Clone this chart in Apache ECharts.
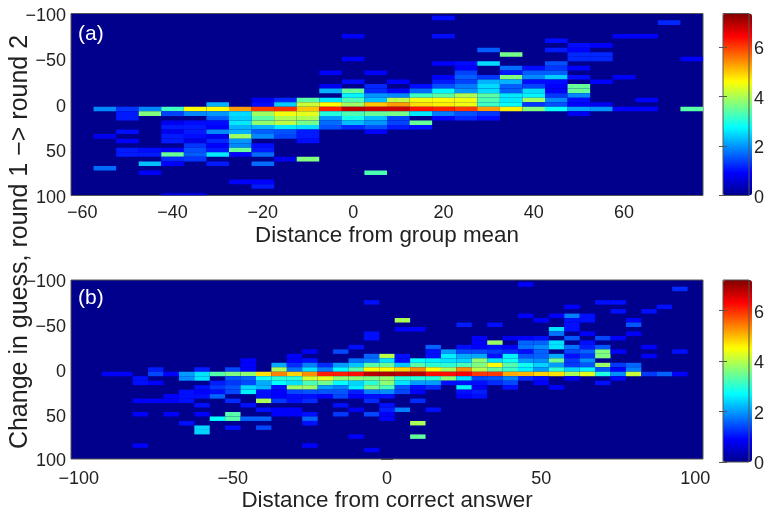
<!DOCTYPE html>
<html><head><meta charset="utf-8">
<style>html,body{margin:0;padding:0;background:#fff}#c{width:767px;height:513px;filter:blur(0.45px)}</style>
<script src="https://cdn.jsdelivr.net/npm/echarts@6/dist/echarts.min.js"></script>
</head><body><div id="c"></div>
<script>
const xTicksA=[-60,-40,-20,0,20,40,60];
const xTicksB=[-100,-50,0,50,100];
const yTicks=[-100,-50,0,50,100];
const barTicks=[0,2,4,6];
const jetColors=['#00008c','#0000ff','#007fff','#00ffff','#7fff7f','#ffff00','#ff7f00','#ff0000','#7f0000'];
const cellsA=[
[-55,5,1.9],[-55,35,.8],[-55,70,1.7],
[-50,5,1.3],[-50,10,1.1],[-50,15,1.1],[-50,30,1],[-50,40,.9],[-50,50,1.1],[-50,55,1.1],
[-45,5,1.9],[-45,10,3.7],[-45,50,1],[-45,55,1.1],[-45,65,2.3],[-45,75,.9],
[-40,5,3.2],[-40,10,1.4],[-40,20,.8],[-40,25,1.1],[-40,30,.8],[-40,35,1.1],[-40,40,1.1],[-40,50,.9],[-40,55,3.5],[-40,60,1.2],[-40,65,.9],[-40,100,.8],
[-35,5,4.6],[-35,10,1.9],[-35,20,1],[-35,25,1.1],[-35,30,1.1],[-35,35,1],[-35,40,.7],[-35,45,1.3],[-35,50,1.5],[-35,55,1.6],[-35,60,1.3],[-35,100,.8],
[-30,0,2.2],[-30,5,4.6],[-30,10,2],[-30,15,1.6],[-30,20,1],[-30,25,.9],[-30,30,1.9],[-30,35,.8],[-30,40,1.2],[-30,45,.9],[-30,50,1.1],[-30,55,2.6],[-30,65,1.1],
[-25,5,5.3],[-25,10,2.5],[-25,15,2.4],[-25,20,2.6],[-25,25,2.2],[-25,30,2.2],[-25,35,3.9],[-25,40,2],[-25,45,1.9],[-25,50,3.5],[-25,55,.9],[-25,85,.9],
[-20,-5,.8],[-20,0,1],[-20,5,6],[-20,10,3.9],[-20,15,3.4],[-20,20,3.8],[-20,25,2.2],[-20,30,1.6],[-20,35,1.9],[-20,45,1],[-20,50,1.1],[-20,55,1.7],[-20,65,1.7],[-20,85,.9],[-20,90,1.1],
[-15,-5,1.2],[-15,0,2.4],[-15,5,6.1],[-15,10,4.5],[-15,15,4],[-15,20,4.1],[-15,25,2.6],[-15,30,1.5],[-15,35,1.4],[-15,60,.8],
[-10,-5,3.4],[-10,0,4.2],[-10,5,5],[-10,10,4.4],[-10,15,4],[-10,20,3.6],[-10,25,2.5],[-10,30,1.1],[-10,35,1.1],[-10,40,1],[-10,60,3.7],
[-5,-35,.9],[-5,-20,.8],[-5,-15,2.2],[-5,-5,2.6],[-5,0,4.6],[-5,5,6.2],[-5,10,3],[-5,15,2],[-5,20,1.7],[-5,25,1.5],
[0,-75,.9],[0,-50,.9],[0,-25,1],[0,-15,3.5],[0,-10,2.7],[0,-5,3.3],[0,0,3.9],[0,5,6.9],[0,10,3.3],[0,15,2.9],[0,20,2.3],[0,25,1.2],
[5,-35,.9],[5,-20,1.2],[5,-15,1.2],[5,-10,2],[5,-5,2.3],[5,0,5],[5,5,6.8],[5,10,3.5],[5,15,2.3],[5,20,2],[5,25,1.5],[5,30,.9],[5,75,3.3],
[10,-25,.9],[10,-15,.9],[10,-10,1.9],[10,-5,4.1],[10,0,5.3],[10,5,6.8],[10,10,3.6],[10,15,1.4],[10,20,1.4],[10,25,1.1],
[15,-20,1],[15,-15,1.7],[15,-10,3.2],[15,-5,4.5],[15,0,4.8],[15,5,6.3],[15,10,2.6],[15,20,3.5],[15,25,1],
[20,-95,1],[20,-75,1],[20,-45,.9],[20,-30,.9],[20,-25,1.1],[20,-20,1.5],[20,-15,2.7],[20,-10,3.4],[20,-5,4.6],[20,0,4.7],[20,5,6.2],[20,10,1.8],[20,15,.9],
[25,-45,1],[25,-40,.9],[25,-35,1.4],[25,-30,1.6],[25,-25,1.4],[25,-20,1.8],[25,-15,2],[25,-10,4],[25,-5,4.5],[25,0,4.5],[25,5,6],[25,10,1.5],[25,15,1.2],
[30,-60,1.6],[30,-45,2.5],[30,-30,1.3],[30,-25,2.2],[30,-20,2.5],[30,-15,2.5],[30,-10,3.4],[30,-5,3.3],[30,0,3.2],[30,5,5.3],[30,10,1.3],[30,15,1],
[35,-55,3.6],[35,-40,1.7],[35,-35,1.1],[35,-30,3.7],[35,-25,2.2],[35,-20,1.6],[35,-15,1.6],[35,-10,2.6],[35,-5,2.6],[35,0,2.8],[35,5,4.7],
[40,-40,1],[40,-35,1.6],[40,-30,1.9],[40,-25,1],[40,-20,1.4],[40,-15,2.5],[40,-10,2.7],[40,-5,3.9],[40,0,1.3],[40,5,3.7],
[45,-70,1],[45,-60,1.1],[45,-45,1.5],[45,-40,1.3],[45,-35,1.6],[45,-30,2.4],[45,-25,1],[45,-20,.9],[45,-15,.9],[45,-10,1.3],[45,-5,1.9],[45,0,1.5],[45,5,2.8],
[50,-65,1],[50,-60,.9],[50,-55,1.2],[50,-50,1.2],[50,-40,.9],[50,-30,1],[50,-20,3.5],[50,-15,3.5],[50,-10,1.9],[50,-5,1],[50,0,.9],[50,5,2.1],[50,10,.8],
[55,-65,.9],[55,-55,1.2],[55,-50,1.2],[55,-25,.9],[55,0,.8],[55,5,2],
[60,-75,.9],[60,-30,.9],[60,5,.9],
[65,-75,.9],[65,-5,.9],[65,5,.9],
[70,-90,1.2],
[75,-50,.9],[75,5,3.4]
];
const cellsB=[
[-90,5,.9],[-85,5,.9],
[-80,10,1],[-80,15,1],[-80,35,.9],[-80,50,.9],[-80,85,.9],
[-75,0,1.1],[-75,5,1.4],[-75,15,.9],[-75,35,.9],
[-70,5,.9],[-70,30,.9],[-70,35,.9],[-70,50,.9],
[-65,5,2],[-65,10,1.9],[-65,25,1],[-65,30,1],[-65,35,1],[-65,60,1],
[-60,0,1.1],[-60,5,2.5],[-60,10,2.5],[-60,20,1],[-60,25,.9],[-60,30,1],[-60,40,1],[-60,50,.9],[-60,65,2.4],[-60,70,2.4],
[-55,5,3.3],[-55,15,1.1],[-55,20,1.3],[-55,25,1],[-55,30,1.6],[-55,55,2.7],
[-50,0,1.4],[-50,5,3.6],[-50,10,1.5],[-50,15,1.3],[-50,20,1.5],[-50,25,1.4],[-50,35,1.2],[-50,50,3.3],[-50,55,3.3],[-50,65,1],
[-45,-10,.9],[-45,-5,.9],[-45,0,.9],[-45,5,3.7],[-45,10,1.6],[-45,15,1.4],[-45,20,2.4],[-45,25,2.6],[-45,40,1],[-45,55,1.6],
[-40,5,4.7],[-40,10,2.8],[-40,15,2.1],[-40,20,2.2],[-40,25,1],[-40,30,1],[-40,35,3.9],[-40,45,1],[-40,55,1.6],[-40,65,1.4],
[-35,-5,2.1],[-35,0,3.9],[-35,5,5.4],[-35,10,3],[-35,15,2.7],[-35,20,1],[-35,25,.9],[-35,30,.9],[-35,35,1.3],[-35,45,.9],[-35,50,.9],
[-30,-15,.9],[-30,-10,.9],[-30,-5,1.2],[-30,0,1.7],[-30,5,4.8],[-30,10,3],[-30,15,2.5],[-30,20,3.8],[-30,25,1.4],[-30,30,1],[-30,35,1],[-30,45,.9],[-30,50,.9],
[-25,-20,.8],[-25,-10,1],[-25,-5,1.8],[-25,0,2.5],[-25,5,5.3],[-25,10,4.2],[-25,15,3.2],[-25,20,3.8],[-25,25,1.5],[-25,30,1],[-25,35,1.2],[-25,50,1],[-25,55,1.6],[-25,60,1],[-25,85,.9],
[-20,-5,1.2],[-20,0,1.8],[-20,5,6.1],[-20,10,4.3],[-20,15,3.5],[-20,20,2],[-20,25,1.5],[-20,30,.9],
[-15,-20,1.4],[-15,-5,2],[-15,0,2.7],[-15,5,6.1],[-15,10,3.7],[-15,15,2.7],[-15,20,1.8],[-15,25,1.5],[-15,30,1.4],[-15,40,1],[-15,50,1.3],
[-10,-25,1],[-10,-10,1.7],[-10,-5,2.3],[-10,0,3.3],[-10,5,6.2],[-10,10,3.7],[-10,15,2.4],[-10,20,2.6],[-10,25,1.1],[-10,30,.9],[-10,45,.8],[-10,75,.9],
[-5,-75,1],[-5,-40,1],[-5,-35,1],[-5,-15,1.6],[-5,-10,1.8],[-5,-5,3.3],[-5,0,4.5],[-5,5,6.8],[-5,10,3.6],[-5,15,3],[-5,20,3.6],[-5,25,1.8],[-5,30,1],[-5,35,1.2],[-5,50,1.4],[-5,90,.9],
[0,-15,4],[0,-10,2.5],[0,-5,3.4],[0,0,4.5],[0,5,6.9],[0,10,3.8],[0,15,3.7],[0,20,3.2],[0,25,1.9],[0,30,1],[0,40,1],[0,45,1.1],[0,50,.8],[0,55,.9],
[5,-55,3.9],[5,-45,.9],[5,-15,1],[5,-10,1],[5,-5,2.3],[5,0,4.8],[5,5,6.8],[5,10,3],[5,15,2.5],[5,20,1.5],[5,25,1.4],[5,45,1.8],
[10,-45,.9],[10,-10,2.7],[10,-5,3.3],[10,0,5.3],[10,5,6.8],[10,10,3],[10,15,2],[10,20,1],[10,25,.9],[10,35,1.2],[10,60,3.9],[10,75,3.4],
[15,-25,1.6],[15,-20,1],[15,-15,1],[15,-10,2.6],[15,-5,3],[15,0,4.5],[15,5,6.2],[15,10,3],[15,15,2],[15,20,1.2],[15,45,1],
[20,-20,2],[20,-15,2.6],[20,-10,2.5],[20,-5,3],[20,0,3.9],[20,5,6.2],[20,10,3.7],[20,15,1],
[25,-50,1.1],[25,-25,1],[25,-20,1.4],[25,-15,2.1],[25,-10,2.4],[25,-5,3.2],[25,0,5.3],[25,5,6.3],[25,10,2.5],[25,15,1],[25,20,2.6],[25,25,1],[25,30,.9],
[30,-35,.9],[30,-30,.9],[30,-25,.9],[30,-20,1.4],[30,-15,2.1],[30,-10,3.7],[30,-5,3.6],[30,0,4],[30,5,5.9],[30,10,1.4],[30,15,1],[30,20,.8],[30,25,1.1],[30,30,1],
[35,-50,1],[35,-30,3.8],[35,-25,1],[35,-20,1.3],[35,-15,1],[35,-10,2.5],[35,-5,4.5],[35,0,3.4],[35,5,5.9],[35,10,1.5],[35,15,1.2],
[40,-35,.8],[40,-25,.9],[40,-20,1.2],[40,-15,2.6],[40,-10,2.8],[40,-5,3.3],[40,0,3.1],[40,5,5.1],[40,10,1.8],[40,15,1.4],[40,20,1],
[45,-95,.9],[45,-60,.9],[45,-35,.9],[45,-30,1.6],[45,-25,1.7],[45,-20,1],[45,-15,1.5],[45,-10,2],[45,-5,2.8],[45,0,2.6],[45,5,5],[45,10,1.2],
[50,-55,.9],[50,-35,1],[50,-30,1.6],[50,-25,1.9],[50,-20,1.6],[50,-15,1.6],[50,-10,1.9],[50,-5,2.4],[50,0,2],[50,5,4.8],[50,10,1],[50,15,.9],
[55,-60,.9],[55,-45,2.5],[55,-40,1.7],[55,-30,2.5],[55,-25,2.5],[55,-15,2.1],[55,-10,3.5],[55,-5,2],[55,0,3],[55,5,4.7],[55,20,.9],
[60,-70,.9],[60,-60,1.8],[60,-55,1],[60,-50,1],[60,-45,1],[60,-35,1.5],[60,-25,1.7],[60,-20,1.4],[60,-15,1],[60,-10,1.3],[60,-5,1.3],[60,0,2.4],[60,5,3.9],[60,10,.8],
[65,-60,1],[65,-55,1],[65,-40,.9],[65,-30,1],[65,-25,1.1],[65,-20,1.6],[65,-15,1.3],[65,-10,1.9],[65,-5,1.5],[65,0,2.6],[65,5,4.3],
[70,-75,1],[70,-35,1.4],[70,-25,1.5],[70,-20,3.6],[70,-15,3.6],[70,-5,3.8],[70,0,1.5],[70,5,2.9],[70,15,1],
[75,-75,1],[75,-65,1],[75,-35,.9],[75,-20,.9],[75,-5,1.3],[75,0,.9],[75,5,1.9],[75,10,.9],
[80,-55,.9],[80,-50,1.5],[80,-40,.9],[80,-5,1.6],[80,0,1.8],[80,5,4.1],
[85,-65,1],[85,-25,.9],[85,-15,.9],[85,5,1.3],
[90,-70,1],[90,5,1.6],
[95,-90,1.2],[95,-20,1],[95,5,.9]
];
const binWidth=5, maxA=7.35, maxB=7.2;
const ink='#222', axisGrey='#555', font='Liberation Sans';
const minus=v=>String(v).replace('-','\u2212');
const renderCell=(p,api)=>{
  const x=api.value(0),y=api.value(1);
  const a=api.coord([x-binWidth/2,y-binWidth/2]), b=api.coord([x+binWidth/2,y+binWidth/2]);
  const r=echarts.graphic.clipRectByRect({x:a[0],y:a[1],width:b[0]-a[0],height:b[1]-a[1]},
    {x:p.coordSys.x,y:p.coordSys.y,width:p.coordSys.width,height:p.coordSys.height});
  return r&&{type:'rect',shape:r,style:{fill:api.visual('color')}};
};
const gridBox=(top)=>({left:71,width:632,top:top,height:182,show:true,backgroundColor:jetColors[0],borderColor:axisGrey,borderWidth:1,z:1});
const barBox=(top)=>({left:723,width:29,top:top,height:182,show:true,backgroundColor:'transparent',borderColor:axisGrey,borderWidth:1,z:10});
const xAx=(gi,min,max,ticks,name,gap,margin)=>[
 {type:'value',gridIndex:gi,min,max,position:'bottom',name,nameLocation:'middle',nameGap:gap,
  nameTextStyle:{fontFamily:font,fontSize:22.4,color:ink},splitLine:{show:false},axisLine:{show:false},
  axisTick:{inside:true,length:6,customValues:ticks,lineStyle:{color:axisGrey}},
  axisLabel:{customValues:ticks,formatter:minus,fontFamily:font,fontSize:18,color:ink,margin}},
 {type:'value',gridIndex:gi,min,max,position:'top',splitLine:{show:false},axisLine:{show:false},
  axisTick:{inside:true,length:6,customValues:ticks,lineStyle:{color:axisGrey}},axisLabel:{show:false}}
];
const yAx=(gi)=>[
 {type:'value',gridIndex:gi,min:-100,max:100,inverse:true,position:'left',splitLine:{show:false},axisLine:{show:false},
  axisTick:{inside:true,length:6,customValues:yTicks,lineStyle:{color:axisGrey}},
  axisLabel:{customValues:yTicks,formatter:minus,fontFamily:font,fontSize:18,color:ink,margin:5,verticalAlign:'top',padding:[-6.5,0,0,0]}},
 {type:'value',gridIndex:gi,min:-100,max:100,inverse:true,position:'right',splitLine:{show:false},axisLine:{show:false},
  axisTick:{inside:true,length:6,customValues:yTicks,lineStyle:{color:axisGrey}},axisLabel:{show:false}}
];
const barY=(gi,max)=>[
 {type:'value',gridIndex:gi,min:0,max,position:'right',z:10,splitLine:{show:false},axisLine:{show:false},
  axisTick:{inside:true,length:4,customValues:barTicks,lineStyle:{color:axisGrey}},
  axisLabel:{customValues:barTicks,fontFamily:font,fontSize:18,color:ink,margin:5,verticalAlign:'top',padding:[-6.5,0,0,0]}},
 {type:'value',gridIndex:gi,min:0,max,position:'left',z:10,splitLine:{show:false},axisLine:{show:false},
  axisTick:{inside:true,length:4,customValues:barTicks,lineStyle:{color:axisGrey}},axisLabel:{show:false}}
];
const barX=(gi)=>({type:'value',gridIndex:gi,min:0,max:1,show:false});
const vm=(si,max,top)=>({type:'continuous',seriesIndex:si,dimension:2,min:0,max,calculable:false,realtime:false,hoverLink:false,
  inRange:{color:jetColors},left:723,top:top,itemWidth:29,itemHeight:182,text:null,showLabel:false,padding:0,borderWidth:0,z:4});
const label=(t,x,y)=>({type:'text',x,y,style:{text:t,fill:'#fff',font:'21px "Liberation Sans"'},z:20});
const chart=echarts.init(document.getElementById('c'),null,{renderer:'canvas'});
chart.setOption({
 animation:false,backgroundColor:'#fff',
 grid:[gridBox(13.5),gridBox(280),barBox(13.5),barBox(280)],
 xAxis:[...xAx(0,-62.5,77.5,xTicksA,'Distance from group mean',29,9),...xAx(1,-102.5,102.5,xTicksB,'Distance from correct answer',31,11),barX(2),barX(3)],
 yAxis:[...yAx(0),...yAx(1),...barY(2,maxA),...barY(3,maxB)],
 visualMap:[vm(0,maxA,13.5),vm(1,maxB,280)],
 series:[
  {type:'custom',renderItem:renderCell,xAxisIndex:0,yAxisIndex:0,data:cellsA,encode:{x:0,y:1},clip:true,silent:true},
  {type:'custom',renderItem:renderCell,xAxisIndex:2,yAxisIndex:2,data:cellsB,encode:{x:0,y:1},clip:true,silent:true}
 ],
 graphic:[
  label('(a)',78,24),label('(b)',78,288),
  {type:'text',x:20,y:242,rotation:Math.PI/2,originX:0,originY:0,
   style:{text:'Change in guess, round 1 \u2212> round 2',fill:ink,font:'25px "Liberation Sans"',align:'center',verticalAlign:'middle'},z:20}
 ]
});
</script></body></html>
